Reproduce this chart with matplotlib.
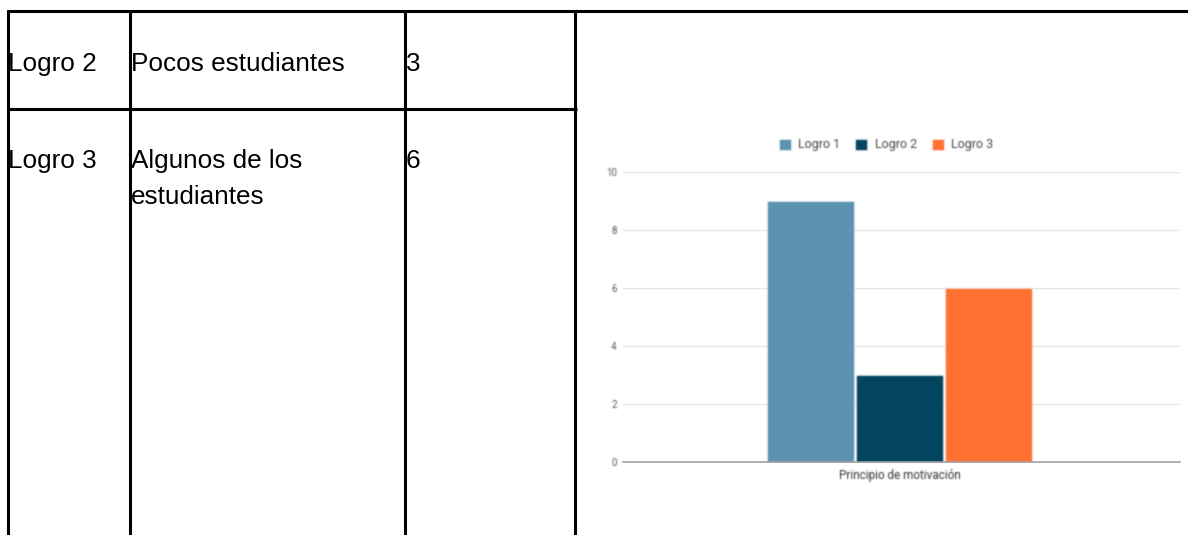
import matplotlib
matplotlib.use("Agg")
import numpy as np
import matplotlib.pyplot as plt
from matplotlib.lines import Line2D

# Table contents
row_labels = ["Logro 2", "Logro 3"]
row_descriptions = [["Pocos estudiantes"], ["Algunos de los", "estudiantes"]]
row_counts = ["3", "6"]

# Chart data
category = ["Principio de motivación"]
series_names = ["Logro 1", "Logro 2", "Logro 3"]
series_values = [9, 3, 6]
series_colors = ["#5b93b1", "#03455f", "#ff7033"]
y_ticks = [0, 2, 4, 6, 8, 10]

W, H = 1188, 535
fig = plt.figure(figsize=(W / 100, H / 100), dpi=100)
fig.patch.set_facecolor("white")

table_font = ["Liberation Sans"]
table_size = 18.8


def px(x, y):
    return x / W, 1 - y / H


# Table grid lines (pixel layout)
lw = 2.2


def hline(y, x0, x1):
    (a, b), (c, d) = px(x0, y), px(x1, y)
    fig.add_artist(Line2D([a, c], [b, d], color="black", lw=lw, solid_capstyle="butt"))


def vline(x, y0, y1):
    (a, b), (c, d) = px(x, y0), px(x, y1)
    fig.add_artist(Line2D([a, c], [b, d], color="black", lw=lw, solid_capstyle="butt"))


hline(11.3, 6.5, W)
hline(109.3, 6.5, 576.5)
for x in [7.8, 129.5, 404.5, 574.8]:
    vline(x, 10, H)

# Table text
row_baselines = [71, 168]
line_step = 36
col_x = [8.5, 131, 406]
for i in range(len(row_labels)):
    cells = [[row_labels[i]], row_descriptions[i], [row_counts[i]]]
    for x, lines in zip(col_x, cells):
        for k, txt in enumerate(lines):
            fx, fy = px(x, row_baselines[i] + k * line_step)
            fig.text(fx, fy, txt, family=table_font, fontsize=table_size,
                     ha="left", va="baseline", color="black")


# Soft rendering for the embedded chart (premultiplied gaussian blur)
def soften(sigma):
    r = int(np.ceil(3 * sigma))
    k = np.exp(-0.5 * (np.arange(-r, r + 1) / sigma) ** 2)
    k /= k.sum()

    def conv(a):
        a = np.apply_along_axis(lambda m: np.convolve(m, k, mode="same"), 0, a)
        return np.apply_along_axis(lambda m: np.convolve(m, k, mode="same"), 1, a)

    def f(img, dpi):
        img = np.pad(img, ((r, r), (r, r), (0, 0)), mode="constant")
        alpha = img[..., 3:4]
        rgb = img[..., :3] * alpha
        rgb = conv(rgb)
        alpha_b = conv(alpha[..., 0])[..., None]
        out = np.empty_like(img)
        out[..., :3] = np.where(alpha_b > 1e-6, rgb / np.maximum(alpha_b, 1e-6), 0)
        out[..., 3:4] = alpha_b
        return np.clip(out, 0, 1), -r, -r
    return f


blur = soften(0.7)

# Chart axes
left, right, top, bottom = 623, 1180, 172, 462
ax = fig.add_axes([left / W, 1 - bottom / H, (right - left) / W, (bottom - top) / H])
ax.set_xlim(-0.4965, 0.5035)
ax.set_ylim(0, 10)

bar_w = 87 / 557
step = 89 / 557
offsets = [-step, 0, step]
for name, val, col, off in zip(series_names, series_values, series_colors, offsets):
    bars = ax.bar(0 + off, val, width=bar_w, color=col, label=name, zorder=3,
                  edgecolor="white", linewidth=0.4)
    for b in bars:
        b.set_agg_filter(blur)

chart_font = ["Roboto", "DejaVu Sans"]
ax.set_yticks(y_ticks)
ax.set_yticklabels([str(t) for t in y_ticks], family=chart_font, fontsize=7, color="#555555")
ax.set_xticks([0])
ax.set_xticklabels(category, family=chart_font, fontsize=8.5, color="#333333")
ax.tick_params(axis="both", length=0)
ax.tick_params(axis="y", pad=4.5)
ax.tick_params(axis="x", pad=5)
ax.grid(axis="y", color="#e6e6e6", lw=1.0, zorder=0)
for s in ["top", "right", "left"]:
    ax.spines[s].set_visible(False)
ax.spines["bottom"].set_color("#9a9a9a")
ax.spines["bottom"].set_linewidth(1.1)
ax.spines["bottom"].set_zorder(4)
ax.set_facecolor("none")
for t in ax.get_xticklabels() + ax.get_yticklabels():
    t.set_agg_filter(blur)

lx, ly = px(886, 145)
leg = ax.legend(loc="center", bbox_to_anchor=(lx, ly), bbox_transform=fig.transFigure,
                ncol=3, frameon=False, handlelength=0.95, handleheight=0.95,
                handletextpad=0.6, columnspacing=1.2,
                prop={"family": chart_font, "size": 9})
for t in leg.get_texts():
    t.set_color("#444444")
leg.set_agg_filter(blur)

fig.savefig("out.png", dpi=100, facecolor="white")
